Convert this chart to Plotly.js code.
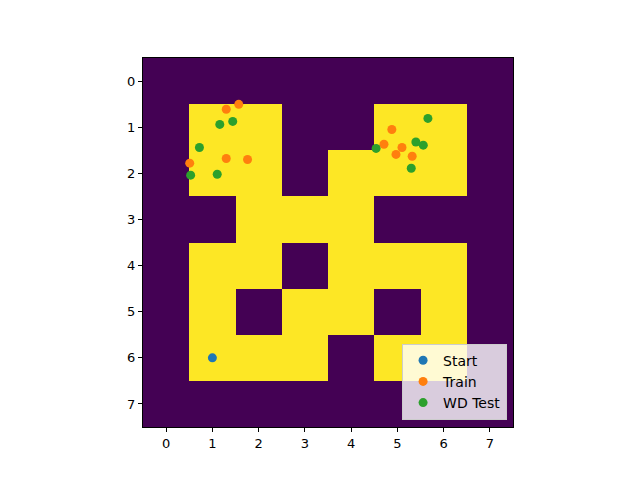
<!DOCTYPE html>
<html>
<head>
<meta charset="utf-8">
<script src="https://cdn.plot.ly/plotly-3.0.1.min.js"></script>
<style>html,body{margin:0;padding:0;background:#fff;}#chart{width:640px;height:480px;}</style>
</head>
<body>
<div id="chart"></div>
<script>
// Maze grid (rows 0..7, cols 0..7): 1 = open (yellow), 0 = wall (purple)
const gridRows = [
  [0,0,0,0,0,0,0,0],
  [0,1,1,0,0,1,1,0],
  [0,1,1,0,1,1,1,0],
  [0,0,1,1,1,0,0,0],
  [0,1,1,0,1,1,1,0],
  [0,1,0,1,1,0,1,0],
  [0,1,1,1,0,1,1,0],
  [0,0,0,0,0,0,0,0]
];
const startX = [1.0];
const startY = [6.0];
const trainX = [1.30, 1.57, 0.51, 1.30, 1.76, 4.88, 4.71, 5.10, 4.97, 5.32];
const trainY = [0.61, 0.505, 1.78, 1.68, 1.70, 1.05, 1.37, 1.44, 1.59, 1.63];
const testX = [1.16, 1.44, 0.72, 0.53, 1.105, 5.66, 4.54, 5.40, 5.56, 5.30];
const testY = [0.94, 0.875, 1.44, 2.04, 2.02, 0.81, 1.46, 1.32, 1.39, 1.89];
const tickVals = [0,1,2,3,4,5,6,7];

const font = {family: 'DejaVu Sans', size: 13, color: '#000'};

const traces = [
  {
    type: 'heatmap', z: gridRows,
    colorscale: [[0,'#440154'],[1,'#fde725']],
    showscale: false, zmin: 0, zmax: 1, hoverinfo: 'skip'
  },
  {type:'scatter', mode:'markers', name:'Start', x:startX, y:startY,
   marker:{color:'#1f77b4', size:9}},
  {type:'scatter', mode:'markers', name:'Train', x:trainX, y:trainY,
   marker:{color:'#ff7f0e', size:9}},
  {type:'scatter', mode:'markers', name:'WD Test', x:testX, y:testY,
   marker:{color:'#2ca02c', size:9}}
];

const axisCommon = {
  tickvals: tickVals, ticks: 'outside', ticklen: 4, tickwidth: 1, tickcolor: '#000',
  showline: true, linecolor: '#000', linewidth: 1, mirror: true,
  showgrid: false, zeroline: false, tickfont: font
};

const layout = {
  width: 640, height: 480,
  margin: {l: 143, r: 127, t: 58, b: 53},
  paper_bgcolor: '#fff', plot_bgcolor: '#fff',
  font: font,
  xaxis: Object.assign({}, axisCommon, {range: [-0.5, 7.5]}),
  yaxis: Object.assign({}, axisCommon, {range: [7.5, -0.5]}),
  showlegend: true,
  legend: {
    x: 0.984, y: 0.02, xanchor: 'right', yanchor: 'bottom',
    bgcolor: 'rgba(255,255,255,0.8)', bordercolor: '#cccccc', borderwidth: 1,
    font: {family: 'DejaVu Sans', size: 14, color: '#000'}, tracegroupgap: 0
  }
};

Plotly.newPlot('chart', traces, layout, {displayModeBar: false, staticPlot: true});
</script>
</body>
</html>
